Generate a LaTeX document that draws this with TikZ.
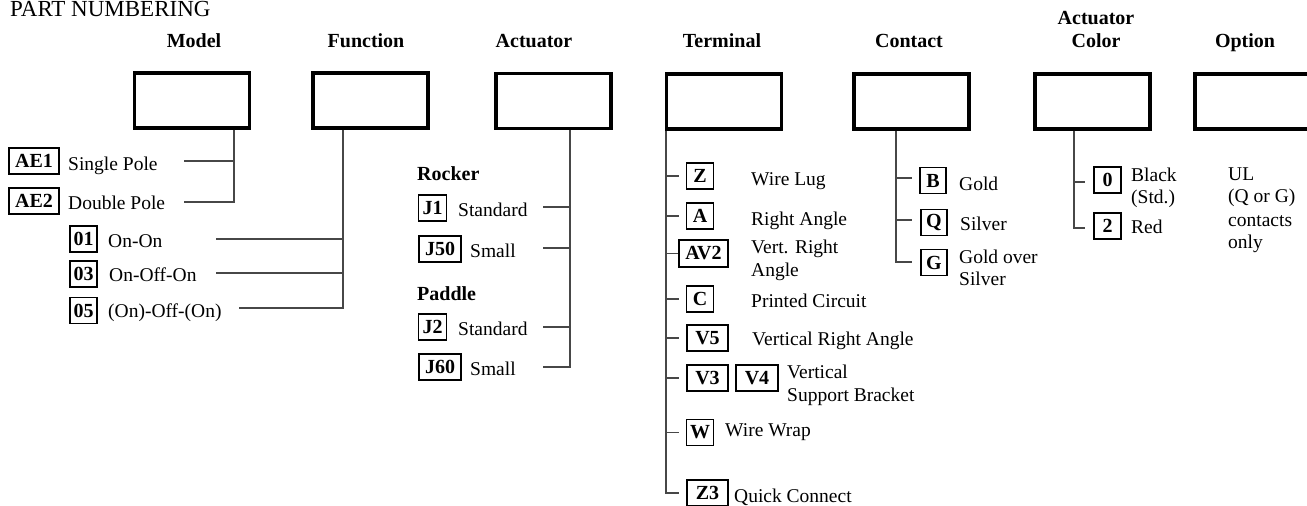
\documentclass[tikz,border=0pt]{standalone}
\usepackage{fontspec}
\setmainfont{Liberation Serif}
\begin{document}
\begin{tikzpicture}[x=1pt,y=-1pt,
  mainbox/.style={draw,line width=3.3pt,minimum width=115pt,minimum height=55pt,inner sep=0pt},
  lbl/.style={draw,line width=1.9pt,minimum height=26pt,inner sep=0pt,font=\fontsize{20}{22}\selectfont\bfseries},
  hdr/.style={anchor=base,inner sep=0pt,font=\fontsize{20}{23}\selectfont\bfseries},
  sub/.style={anchor=base west,inner sep=0pt,font=\fontsize{20}{23}\selectfont\bfseries},
  txt/.style={anchor=base west,inner sep=0pt,font=\fontsize{19.5}{23}\selectfont},
  conn/.style={draw=black!72,line width=1.3pt}]
\useasboundingbox (0,0) rectangle (1307,506);
\clip (0,0) rectangle (1307,506);

% title
\node[anchor=base west,inner sep=0pt,font=\fontsize{23}{26}\selectfont] (title) at (10,16.5) {PART NUMBERING};

% headers
\node[hdr] (hModel) at (194,47) {Model};
\node[hdr] (hFunc) at (366,47) {Function};
\node[hdr] (hAct) at (534,47) {Actuator};
\node[hdr] (hTerm) at (722,47) {Terminal};
\node[hdr] (hCont) at (909,47) {Contact};
\node[hdr] (hCol1) at (1096,24) {Actuator};
\node[hdr] (hCol2) at (1096,47) {Color};
\node[hdr] (hOpt) at (1245,47) {Option};

% main boxes
\node[mainbox] (model) at (192,100.5) {};
\node[mainbox] (func) at (370.5,100.5) {};
\node[mainbox] (act) at (553.5,101) {};
\node[mainbox] (term) at (724,101.5) {};
\node[mainbox] (cont) at (911.5,101.5) {};
\node[mainbox] (color) at (1092.5,101.5) {};
\node[mainbox] (opt) at (1252.5,101.5) {};

% ---------- Model ----------
\node[lbl,minimum width=50pt] (ae1) at (34,161) {AE1};
\node[txt] (tae1) at (68,170) {Single Pole};
\node[lbl,minimum width=50pt] (ae2) at (34,201) {AE2};
\node[txt] (tae2) at (68,209) {Double Pole};
\coordinate (m1) at (184,161);
\coordinate (m2) at (184,202);
\coordinate (mstem) at (234,202);
\draw[conn] (mstem |- model.south) -- (mstem) -- (m2);
\draw[conn] (m1) -- (m1 -| mstem);

% ---------- Function ----------
\node[lbl,minimum width=27pt] (f01) at (83.5,239) {01};
\node[txt] (tf01) at (108,247) {On-On};
\node[lbl,minimum width=27pt] (f03) at (83.5,274) {03};
\node[txt] (tf03) at (109,281) {On-Off-On};
\node[lbl,minimum width=27pt] (f05) at (83.5,310.5) {05};
\node[txt] (tf05) at (108,317) {(On)-Off-(On)};
\coordinate (f1) at (216,239);
\coordinate (f2) at (216,273);
\coordinate (f3) at (239,308);
\coordinate (fstem) at (343,308);
\draw[conn] (fstem |- func.south) -- (fstem) -- (f3);
\draw[conn] (f1) -- (f1 -| fstem);
\draw[conn] (f2) -- (f2 -| fstem);

% ---------- Actuator ----------
\node[sub] (rocker) at (417,180) {Rocker};
\node[lbl,minimum width=28pt] (j1) at (432.5,208) {J1};
\node[txt] (tj1) at (458,216) {Standard};
\node[lbl,minimum width=42pt] (j50) at (440,249) {J50};
\node[txt] (tj50) at (470,257) {Small};
\node[sub] (paddle) at (417,300) {Paddle};
\node[lbl,minimum width=28pt] (j2) at (432.5,327) {J2};
\node[txt] (tj2) at (458,335) {Standard};
\node[lbl,minimum width=42pt] (j60) at (440,367) {J60};
\node[txt] (tj60) at (470,375) {Small};
\coordinate (a1) at (543,207);
\coordinate (a2) at (543,248);
\coordinate (a3) at (543,327);
\coordinate (a4) at (543,367);
\coordinate (astem) at (570,367);
\draw[conn] (astem |- act.south) -- (astem) -- (a4);
\foreach \p in {a1,a2,a3} \draw[conn] (\p) -- (\p -| astem);

% ---------- Terminal ----------
\node[lbl,minimum width=27pt] (tz) at (700,176) {Z};
\node[txt] (ttz) at (751,185) {Wire Lug};
\node[lbl,minimum width=27pt] (ta) at (700,216) {A};
\node[txt] (tta) at (751,225) {Right Angle};
\node[lbl,minimum width=49pt,minimum height=27pt] (tav2) at (703.5,253.5) {AV2};
\node[txt] (ttav2a) at (751,253) {Vert. Right};
\node[txt] (ttav2b) at (751,276) {Angle};
\node[lbl,minimum width=27pt] (tc) at (700,299) {C};
\node[txt] (ttc) at (751,307) {Printed Circuit};
\node[lbl,minimum width=41pt] (tv5) at (707.5,338) {V5};
\node[txt] (ttv5) at (752,345) {Vertical Right Angle};
\node[lbl,minimum width=41pt] (tv3) at (707.5,378) {V3};
\node[lbl,minimum width=42pt] (tv4) at (757,378) {V4};
\node[txt] (ttv4a) at (787,378) {Vertical};
\node[txt] (ttv4b) at (787,401) {Support Bracket};
\node[lbl,minimum width=27pt] (tw) at (700,432.5) {W};
\node[txt] (ttw) at (725,436) {Wire Wrap};
\node[lbl,minimum width=41pt] (tz3) at (707.5,493) {Z3};
\node[txt] (ttz3) at (734,502) {Quick Connect};
\coordinate (tstem) at (666,493);
\draw[conn] (tstem |- term.south) -- (tstem) -- ([xshift=-7pt]tz3.west |- tstem);
\foreach \n in {tz,ta,tc,tv5,tv3,tw}
  \draw[conn] (tstem |- \n.west) -- ([xshift=-7pt]\n.west);
\draw[conn] (tstem |- tav2.west) -- (tav2.west);

% ---------- Contact ----------
\node[lbl,minimum width=26pt] (cb) at (933,180.5) {B};
\node[txt] (tcb) at (959,190) {Gold};
\node[lbl,minimum width=26pt] (cq) at (934,222.5) {Q};
\node[txt] (tcq) at (960,230) {Silver};
\node[lbl,minimum width=26pt] (cg) at (934,262.5) {G};
\node[txt] (tcg1) at (959,263) {Gold over};
\node[txt] (tcg2) at (959,285) {Silver};
\coordinate (cstem) at (896,262);
\draw[conn] (cstem |- cont.south) -- (cstem) -- ([xshift=-8pt]cg.west |- cstem);
\draw[conn] (cstem |- 0,178) -- ([xshift=-7pt]cb.west |- 0,178);
\draw[conn] (cstem |- 0,220) -- ([xshift=-8pt]cq.west |- 0,220);

% ---------- Actuator Color ----------
\node[lbl,minimum width=27pt] (c0) at (1107.5,180) {0};
\node[txt] (tc0a) at (1131,181) {Black};
\node[txt] (tc0b) at (1131,203) {(Std.)};
\node[lbl,minimum width=27pt] (c2) at (1107.5,226) {2};
\node[txt] (tc2) at (1131,233) {Red};
\coordinate (kstem) at (1074,228);
\draw[conn] (kstem |- color.south) -- (kstem) -- ([xshift=-8pt]c2.west |- kstem);
\draw[conn] (kstem |- 0,182) -- ([xshift=-8pt]c0.west |- 0,182);

% ---------- Option ----------
\node[txt] (o1) at (1228,180) {UL};
\node[txt] (o2) at (1228,202) {(Q or G)};
\node[txt] (o3) at (1228,226) {contacts};
\node[txt] (o4) at (1228,248) {only};
\end{tikzpicture}
\end{document}
